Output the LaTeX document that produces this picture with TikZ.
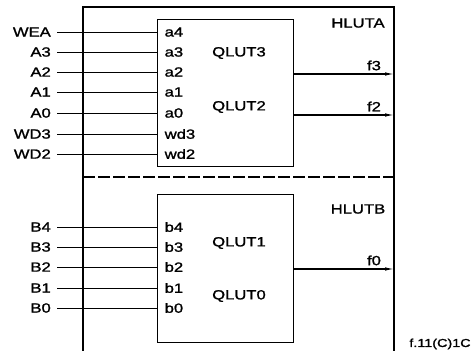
\documentclass[tikz,border=0pt]{standalone}
\usepackage{fontspec}
\newfontfamily\lab[FakeStretch=1.25,FakeBold=1.4]{Liberation Sans}
\usetikzlibrary{arrows.meta}
\tikzset{
  x=1pt,y=1pt,
  lbl/.style={font=\lab\fontsize{13.3}{13.3}\selectfont, inner sep=0pt},
  inlbl/.style={lbl, anchor=east, inner xsep=6pt},
  pinlbl/.style={lbl, anchor=west, inner xsep=7.5pt},
  lut/.style={draw, line width=1.2pt, minimum width=136pt, minimum height=147pt, anchor=north west, inner sep=0pt},
  wire/.style={line width=0.9pt},
  outw/.style={line width=1.1pt, -{Latex[length=9pt,width=3.5pt]}},
  outer/.style={line width=1.6pt},
  sep/.style={line width=1.4pt, dash pattern=on 12pt off 3pt},
}
\begin{document}
\begin{tikzpicture}
\useasboundingbox (0,0) rectangle (475,-351);
% outer frame
\coordinate (obl) at (83,-351);
\coordinate (otl) at (83,-7);
\coordinate (otr) at (394,-7);
\coordinate (obr) at (394,-351);
\draw[outer] (obl) -- (otl) -- (otr) -- (obr);
\coordinate (sepl) at (83,-177);
\coordinate (sepr) at (394,-177);
\draw[sep] (sepl) -- (sepr);
% LUT boxes
\node[lut, minimum height=147pt] (qa) at (157,-19) {};
\node[lut, minimum height=148pt] (qb) at (157,-194) {};
% A inputs
\foreach \n/\p/\y in {WEA/a4/32, A3/a3/52, A2/a2/72, A1/a1/92, A0/a0/113, WD3/wd3/134, WD2/wd2/154}{
  \node[inlbl] (in\n) at (57,-\y) {\n};
  \node[pinlbl] (pin\p) at (157,-\y) {\p};
  \draw[wire] (in\n.east) -- (pin\p.west);
}
% B inputs
\foreach \n/\p/\y in {B4/b4/227, B3/b3/247, B2/b2/267, B1/b1/288, B0/b0/308}{
  \node[inlbl] (in\n) at (57,-\y) {\n};
  \node[pinlbl] (pin\p) at (157,-\y) {\p};
  \draw[wire] (in\n.east) -- (pin\p.west);
}
% internal labels
\node[lbl] (q3) at (239,-53) {QLUT3};
\node[lbl] (q2) at (239,-107) {QLUT2};
\node[lbl] (q1) at (239,-243) {QLUT1};
\node[lbl] (q0) at (239,-296) {QLUT0};
\node[lbl] (ha) at (358,-23) {HLUTA};
\node[lbl] (hb) at (358,-209) {HLUTB};
% outputs
\foreach \f/\y in {f3/74, f2/115, f0/269}{
  \coordinate (e\f) at (394,-\y);
  \draw[outw] (qa.east |- e\f) -- (e\f);
  \node[lbl, anchor=south, inner ysep=3.5pt] (l\f) at (374,-\y) {\f};
}
\node[font=\lab\fontsize{11.5}{11.5}\selectfont, inner sep=0pt] (fig) at (440,-344) {f.11(C)1C};
\end{tikzpicture}
\end{document}
